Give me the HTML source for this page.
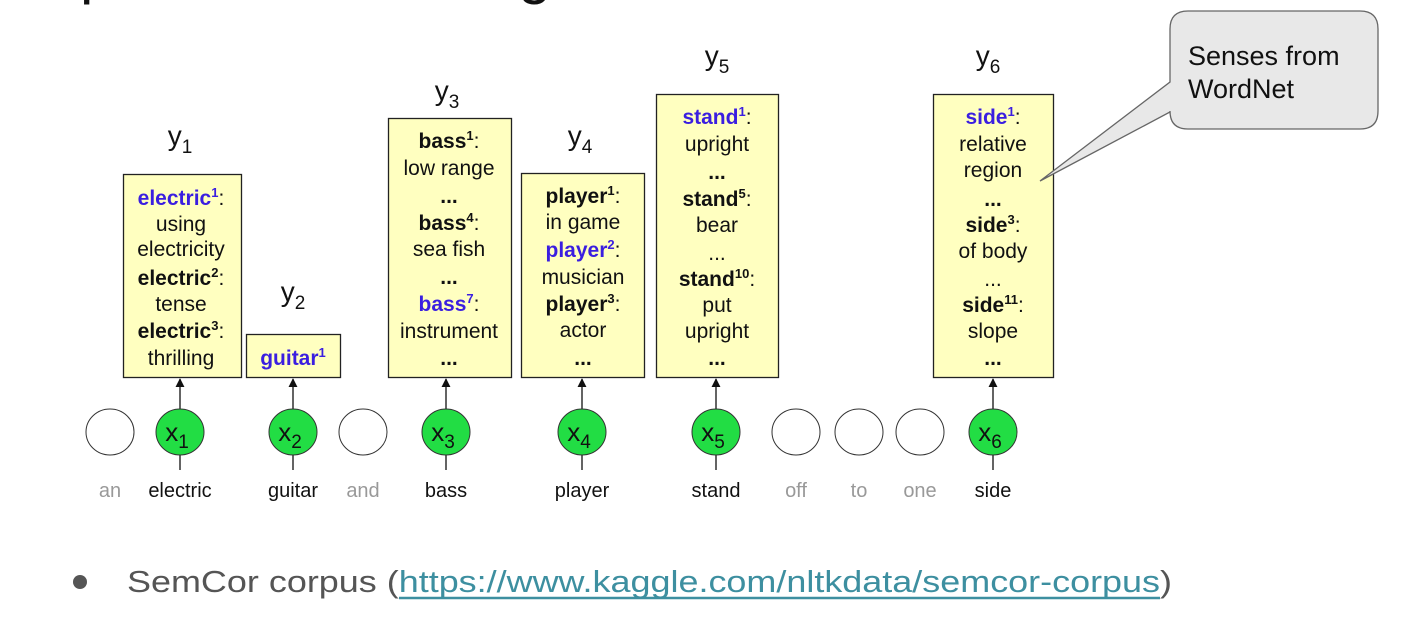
<!DOCTYPE html>
<html><head><meta charset="utf-8"><style>
html,body{margin:0;padding:0;background:#fff;}
svg{display:block;font-family:"Liberation Sans",Arial,sans-serif;}
.t{font-size:21px;fill:#111;text-anchor:middle;}
.b{font-weight:bold;}
.bl{font-weight:bold;fill:#3a1ee0;}
.w{font-size:20px;text-anchor:middle;fill:#111;}
.g{fill:#999;}
.lab{font-size:28px;text-anchor:middle;fill:#111;}
.sub{font-size:19px;}
</style></head><body>
<svg width="1420" height="620" viewBox="0 0 1420 620" xmlns="http://www.w3.org/2000/svg">
<defs><marker id="ar" viewBox="0 0 10 10" refX="9" refY="5" markerWidth="7" markerHeight="9" orient="auto"><path d="M0,0 L10,5 L0,10 z" fill="#111"/></marker></defs>
<!-- cut-off title descenders -->
<text x="80" y="-8" font-size="60" fill="#111">p</text>
<text x="518" y="-8" font-size="60" fill="#111">g</text>

<!-- boxes -->
<g fill="#ffffc0" stroke="#222" stroke-width="1.3">
<rect x="123.5" y="174.5" width="118" height="203"/>
<rect x="246.5" y="334.5" width="94" height="43"/>
<rect x="388.5" y="118.5" width="123" height="259"/>
<rect x="521.5" y="173.5" width="123" height="204"/>
<rect x="656.5" y="94.5" width="122" height="283"/>
<rect x="933.5" y="94.5" width="120" height="283"/>
</g>

<!-- y labels -->
<text class="lab" x="180" y="145">y<tspan class="sub" dy="8">1</tspan></text>
<text class="lab" x="293" y="301">y<tspan class="sub" dy="8">2</tspan></text>
<text class="lab" x="447" y="100">y<tspan class="sub" dy="8">3</tspan></text>
<text class="lab" x="580" y="145">y<tspan class="sub" dy="8">4</tspan></text>
<text class="lab" x="717" y="65">y<tspan class="sub" dy="8">5</tspan></text>
<text class="lab" x="988" y="65">y<tspan class="sub" dy="8">6</tspan></text>

<!-- y1 -->
<g class="t">
<text x="181" y="205"><tspan class="bl">electric<tspan font-size="13" dy="-8">1</tspan></tspan><tspan dy="8">:</tspan></text>
<text x="181" y="231">using</text>
<text x="181" y="256">electricity</text>
<text x="181" y="285"><tspan class="b">electric<tspan font-size="13" dy="-8">2</tspan></tspan><tspan dy="8">:</tspan></text>
<text x="181" y="311">tense</text>
<text x="181" y="338"><tspan class="b">electric<tspan font-size="13" dy="-8">3</tspan></tspan><tspan dy="8">:</tspan></text>
<text x="181" y="365">thrilling</text>
<!-- y2 -->
<text x="293" y="365"><tspan class="bl">guitar<tspan font-size="13" dy="-8">1</tspan></tspan></text>
<!-- y3 -->
<text x="449" y="148"><tspan class="b">bass<tspan font-size="13" dy="-8">1</tspan></tspan><tspan dy="8">:</tspan></text>
<text x="449" y="175">low range</text>
<text x="449" y="203" class="b">...</text>
<text x="449" y="230"><tspan class="b">bass<tspan font-size="13" dy="-8">4</tspan></tspan><tspan dy="8">:</tspan></text>
<text x="449" y="256">sea fish</text>
<text x="449" y="284" class="b">...</text>
<text x="449" y="311"><tspan class="bl">bass<tspan font-size="13" dy="-8">7</tspan></tspan><tspan dy="8">:</tspan></text>
<text x="449" y="338">instrument</text>
<text x="449" y="365" class="b">...</text>
<!-- y4 -->
<text x="583" y="203"><tspan class="b">player<tspan font-size="13" dy="-8">1</tspan></tspan><tspan dy="8">:</tspan></text>
<text x="583" y="229">in game</text>
<text x="583" y="257"><tspan class="bl">player<tspan font-size="13" dy="-8">2</tspan></tspan><tspan dy="8">:</tspan></text>
<text x="583" y="284">musician</text>
<text x="583" y="311"><tspan class="b">player<tspan font-size="13" dy="-8">3</tspan></tspan><tspan dy="8">:</tspan></text>
<text x="583" y="337">actor</text>
<text x="583" y="365" class="b">...</text>
<!-- y5 -->
<text x="717" y="124"><tspan class="bl">stand<tspan font-size="13" dy="-8">1</tspan></tspan><tspan dy="8">:</tspan></text>
<text x="717" y="151">upright</text>
<text x="717" y="179" class="b">...</text>
<text x="717" y="206"><tspan class="b">stand<tspan font-size="13" dy="-8">5</tspan></tspan><tspan dy="8">:</tspan></text>
<text x="717" y="232">bear</text>
<text x="717" y="260">...</text>
<text x="717" y="286"><tspan class="b">stand<tspan font-size="13" dy="-8">10</tspan></tspan><tspan dy="8">:</tspan></text>
<text x="717" y="312">put</text>
<text x="717" y="338">upright</text>
<text x="717" y="365" class="b">...</text>
<!-- y6 -->
<text x="993" y="124"><tspan class="bl">side<tspan font-size="13" dy="-8">1</tspan></tspan><tspan dy="8">:</tspan></text>
<text x="993" y="151">relative</text>
<text x="993" y="177">region</text>
<text x="993" y="206" class="b">...</text>
<text x="993" y="232"><tspan class="b">side<tspan font-size="13" dy="-8">3</tspan></tspan><tspan dy="8">:</tspan></text>
<text x="993" y="258">of body</text>
<text x="993" y="286">...</text>
<text x="993" y="312"><tspan class="b">side<tspan font-size="13" dy="-8">11</tspan></tspan><tspan dy="8">:</tspan></text>
<text x="993" y="338">slope</text>
<text x="993" y="365" class="b">...</text>
</g>

<!-- arrows and stems -->
<g stroke="#111" stroke-width="1.3">
<line x1="180" y1="409" x2="180" y2="379" marker-end="url(#ar)"/>
<line x1="293" y1="409" x2="293" y2="379" marker-end="url(#ar)"/>
<line x1="446" y1="409" x2="446" y2="379" marker-end="url(#ar)"/>
<line x1="582" y1="409" x2="582" y2="379" marker-end="url(#ar)"/>
<line x1="716" y1="409" x2="716" y2="379" marker-end="url(#ar)"/>
<line x1="993" y1="409" x2="993" y2="379" marker-end="url(#ar)"/>
<line x1="180" y1="455" x2="180" y2="470"/>
<line x1="293" y1="455" x2="293" y2="470"/>
<line x1="446" y1="455" x2="446" y2="470"/>
<line x1="582" y1="455" x2="582" y2="470"/>
<line x1="716" y1="455" x2="716" y2="470"/>
<line x1="993" y1="455" x2="993" y2="470"/>
</g>

<!-- circles -->
<g stroke="#333" stroke-width="1">
<ellipse cx="110" cy="432" rx="24" ry="23" fill="#fff"/>
<ellipse cx="363" cy="432" rx="24" ry="23" fill="#fff"/>
<ellipse cx="796" cy="432" rx="24" ry="23" fill="#fff"/>
<ellipse cx="859" cy="432" rx="24" ry="23" fill="#fff"/>
<ellipse cx="920" cy="432" rx="24" ry="23" fill="#fff"/>
<ellipse cx="180" cy="432" rx="24" ry="23" fill="#22dd44"/>
<ellipse cx="293" cy="432" rx="24" ry="23" fill="#22dd44"/>
<ellipse cx="446" cy="432" rx="24" ry="23" fill="#22dd44"/>
<ellipse cx="582" cy="432" rx="24" ry="23" fill="#22dd44"/>
<ellipse cx="716" cy="432" rx="24" ry="23" fill="#22dd44"/>
<ellipse cx="993" cy="432" rx="24" ry="23" fill="#22dd44"/>
</g>
<g class="lab" font-size="26">
<text x="177" y="441" font-size="26">x<tspan class="sub" dy="7">1</tspan></text>
<text x="290" y="441" font-size="26">x<tspan class="sub" dy="7">2</tspan></text>
<text x="443" y="441" font-size="26">x<tspan class="sub" dy="7">3</tspan></text>
<text x="579" y="441" font-size="26">x<tspan class="sub" dy="7">4</tspan></text>
<text x="713" y="441" font-size="26">x<tspan class="sub" dy="7">5</tspan></text>
<text x="990" y="441" font-size="26">x<tspan class="sub" dy="7">6</tspan></text>
</g>

<!-- words -->
<g class="w">
<text x="110" y="497" class="g">an</text>
<text x="180" y="497">electric</text>
<text x="293" y="497">guitar</text>
<text x="363" y="497" class="g">and</text>
<text x="446" y="497">bass</text>
<text x="582" y="497">player</text>
<text x="716" y="497">stand</text>
<text x="796" y="497" class="g">off</text>
<text x="859" y="497" class="g">to</text>
<text x="920" y="497" class="g">one</text>
<text x="993" y="497">side</text>
</g>

<!-- callout -->
<path d="M1188,11 H1360 Q1378,11 1378,29 V111 Q1378,129 1360,129 H1188 Q1170,129 1170,111 V112 L1040,181 L1170,82 V29 Q1170,11 1188,11 Z" fill="#e8e8e8" stroke="#666" stroke-width="1.3"/>
<text x="1188" y="65" font-size="27" fill="#111">Senses from</text>
<text x="1188" y="98" font-size="27" fill="#111">WordNet</text>

<!-- bullet -->
<circle cx="80" cy="582" r="7" fill="#555"/>
<text x="127" y="592" font-size="31" fill="#555" textLength="1045" lengthAdjust="spacingAndGlyphs">SemCor corpus (<tspan fill="#3d8fa0">https://www.kaggle.com/nltkdata/semcor-corpus</tspan>)</text>
<line x1="399" y1="598" x2="1160" y2="598" stroke="#3d8fa0" stroke-width="2.5"/>
</svg>
</body></html>
